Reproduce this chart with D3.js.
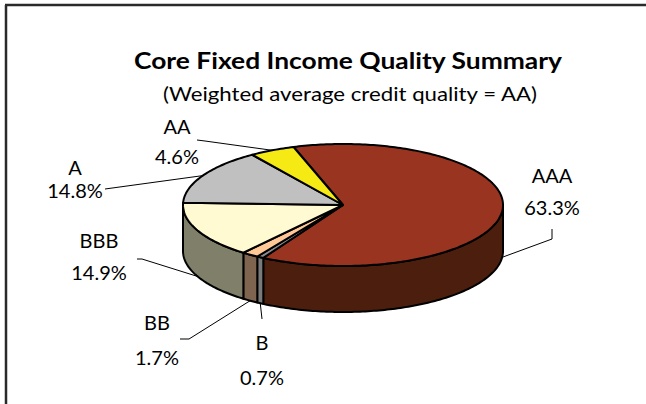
<!DOCTYPE html>
<html>
<head>
<meta charset="utf-8">
<script src="https://cdn.jsdelivr.net/npm/d3@7"></script>
<style>
  html, body { margin: 0; padding: 0; background: #fff; }
  svg { display: block; }
  text { font-family: Lato, "Open Sans", sans-serif; fill: #000; }
</style>
</head>
<body>
<script>
// ---------- data ----------
const categories = ["AAA", "B", "BB", "BBB", "A", "AA"];
const values = [63.3, 0.7, 1.7, 14.9, 14.8, 4.6];
const titleText = "Core Fixed Income Quality Summary";
const subtitleText = "(Weighted average credit quality = AA)";

// ---------- styles ----------
const topColors  = ["#993421", "#8a8a8a", "#ffc896", "#fffad2", "#c0c0c0", "#f6ea14"];
const sideColors = ["#4c1e0e", "#7a7a7a", "#7f6550", "#80806a", "#606060", "#7a7509"];

// ---------- layout ----------
const W = 646, H = 404;
const cx = 343, cy = 205, rx = 160, ry = 61, depth = 46;
const startDeg = -18;
// label layout: text centre x, name baseline y, value baseline y, leader start points
const labelLayout = {
  AAA: { x: 552, y1: 183, y2: 215, anchorDepth: true,  path: [[552, 229], [552, 239]] },
  B:   { x: 262, y1: 350, y2: 385, anchorDepth: true,  path: [[262, 319]] },
  BB:  { x: 157, y1: 330, y2: 365, anchorDepth: true,  path: [[180, 339], [189, 339]] },
  BBB: { x: 99,  y1: 248, y2: 280, anchorDepth: true,  path: [[137, 259], [142, 259]] },
  A:   { x: 75,  y1: 175, y2: 198, anchorDepth: false, path: [[105, 189]] },
  AA:  { x: 177, y1: 134, y2: 164, anchorDepth: false, path: [[197, 140], [205, 141]] }
};

const svg = d3.select("body").append("svg").attr("width", W).attr("height", H);
svg.append("rect").attr("width", W).attr("height", H).attr("fill", "#fff");

// frame (top and left edges visible)
svg.append("line").attr("x1", 5).attr("x2", W).attr("y1", 5).attr("y2", 5)
  .attr("stroke", "#2a2a2a").attr("stroke-width", 2.5);
svg.append("line").attr("x1", 6).attr("x2", 6).attr("y1", 5).attr("y2", H)
  .attr("stroke", "#2a2a2a").attr("stroke-width", 2.5);

// title
svg.append("text").attr("x", 348).attr("y", 69).attr("text-anchor", "middle")
  .attr("textLength", 428).attr("lengthAdjust", "spacingAndGlyphs")
  .style("font-weight", "bold").style("font-size", "22px").text(titleText);
svg.append("text").attr("x", 350).attr("y", 101).attr("text-anchor", "middle")
  .attr("textLength", 374).attr("lengthAdjust", "spacingAndGlyphs")
  .style("font-size", "20px").text(subtitleText);

// pie angles
const rad = Math.PI / 180;
const pie = d3.pie().sort(null).value(d => d.v)
  .startAngle(startDeg * rad).endAngle((startDeg + 360) * rad);
const data = categories.map((c, i) => ({ c, v: values[i], i }));
const arcs = pie(data);

const pt = (a, dz = 0) => [cx + rx * Math.sin(a), cy - ry * Math.cos(a) + dz];
function rimPoints(a0, a1, dz = 0) {
  const n = Math.max(2, Math.ceil(Math.abs(a1 - a0) / (1 * rad)));
  return d3.range(n + 1).map(k => pt(a0 + (a1 - a0) * k / n, dz));
}
const line = d3.line();

// side walls (front half only: angles in [90°, 270°])
const g = svg.append("g");
arcs.forEach(a => {
  const b0 = Math.max(a.startAngle, 90 * rad);
  const b1 = Math.min(a.endAngle, 270 * rad);
  if (b1 <= b0) return;
  const pts = rimPoints(b0, b1, 0).concat(rimPoints(b1, b0, depth));
  g.append("path").attr("d", line(pts) + "Z")
    .attr("fill", sideColors[a.index])
    .attr("stroke", "#000").attr("stroke-width", 2).attr("stroke-linejoin", "round");
});

// top faces
arcs.forEach(a => {
  const pts = [[cx, cy]].concat(rimPoints(a.startAngle, a.endAngle, 0));
  g.append("path").attr("d", line(pts) + "Z")
    .attr("fill", topColors[a.index])
    .attr("stroke", "#000").attr("stroke-width", 2).attr("stroke-linejoin", "round");
});

// labels & leader lines
const fmt = d3.format(".1f");
arcs.forEach(a => {
  const L = labelLayout[a.data.c];
  const mid = (a.startAngle + a.endAngle) / 2;
  const anchor = pt(mid, L.anchorDepth ? depth : 0);
  svg.append("path").attr("d", line(L.path.concat([anchor])))
    .attr("fill", "none").attr("stroke", "#000").attr("stroke-width", 1);
  svg.append("text").attr("x", L.x).attr("y", L.y1).attr("text-anchor", "middle")
    .style("font-size", "20px").text(a.data.c);
  svg.append("text").attr("x", L.x).attr("y", L.y2).attr("text-anchor", "middle")
    .style("font-size", "20px").text(fmt(a.data.v) + "%");
});
</script>
</body>
</html>
